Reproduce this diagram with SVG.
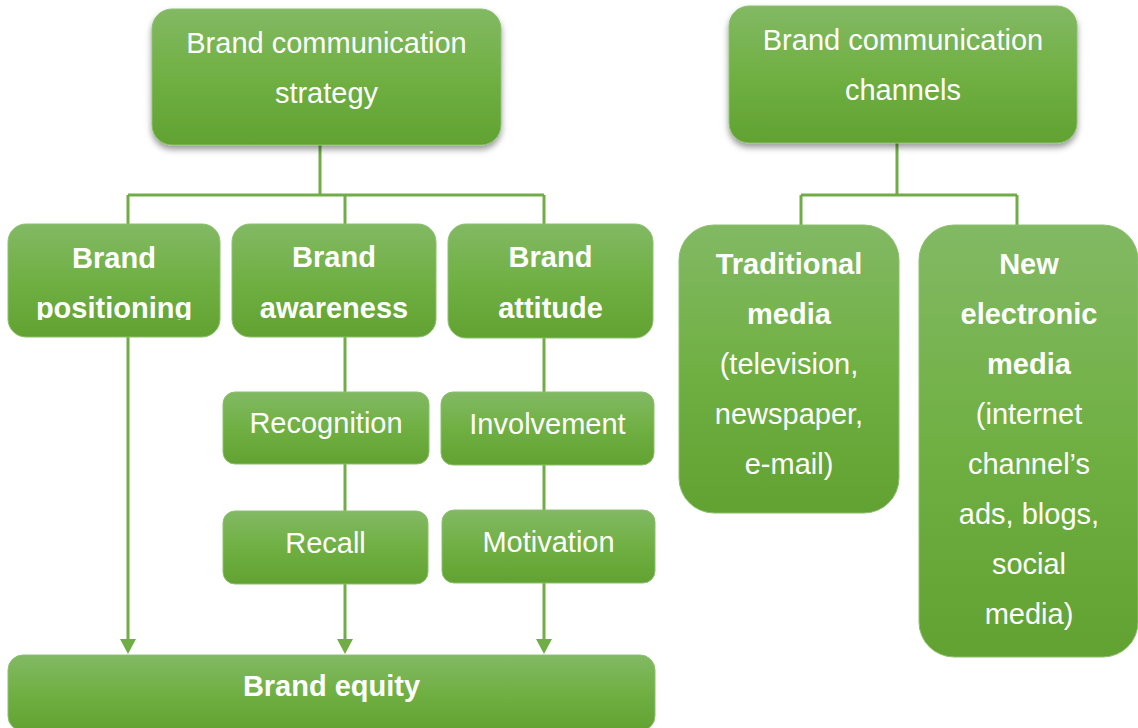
<svg xmlns="http://www.w3.org/2000/svg" width="1138" height="728" viewBox="0 0 1138 728">
<style>
.box{fill:url(#g);stroke:#8cc06e;stroke-width:1}
.t{font-family:"Liberation Sans",Arial,sans-serif;font-size:29px;fill:#ffffff;text-anchor:middle}
.b{font-weight:bold}
.c{fill:none;stroke:#70ad47;stroke-width:3}
</style>
<defs>
<linearGradient id="g" x1="0" y1="0" x2="0" y2="1">
<stop offset="0" stop-color="#82b964"/>
<stop offset="0.5" stop-color="#70b043"/>
<stop offset="1" stop-color="#61a232"/>
</linearGradient>
<filter id="sh" x="-10%" y="-10%" width="120%" height="130%">
<feDropShadow dx="0" dy="4" stdDeviation="3" flood-color="#000" flood-opacity="0.4"/>
</filter>
<marker id="arr" markerUnits="userSpaceOnUse" markerWidth="15" markerHeight="16" viewBox="0 0 15 16" refX="6" refY="8" orient="auto">
<path d="M0,0 L15,8 L0,16 z" fill="#70ad47"/>
</marker>
<clipPath id="clipPos"><rect x="0" y="224" width="230" height="96"/></clipPath>
</defs>

<g id="connectors">
<path class="c" d="M320,145 V195 M128,195 H544 M128,195 V224 M345,195 V224 M544,195 V224"/>
<path class="c" d="M897,143 V195 M801,195 H1017 M801,195 V225 M1017,195 V225"/>
<path class="c" d="M345,337 V392 M345,464 V511 M544,338 V392 M544,465 V510"/>
<path class="c" d="M128,337 V645" marker-end="url(#arr)"/>
<path class="c" d="M345,584 V645" marker-end="url(#arr)"/>
<path class="c" d="M544,583 V645" marker-end="url(#arr)"/>
</g>

<g id="node-strategy">
<rect class="box" x="152" y="9" width="349" height="136" rx="20" filter="url(#sh)"/>
<text class="t" x="326.5" y="53">Brand communication</text>
<text class="t" x="326.5" y="103">strategy</text>
</g>

<g id="node-channels">
<rect class="box" x="729" y="6" width="348" height="137" rx="20" filter="url(#sh)"/>
<text class="t" x="903" y="50">Brand communication</text>
<text class="t" x="903" y="100">channels</text>
</g>

<g id="node-positioning">
<rect class="box" x="8" y="224" width="212" height="113" rx="18"/>
<g clip-path="url(#clipPos)">
<text class="t b" x="114" y="268">Brand</text>
<text class="t b" x="114" y="317.5">positioning</text>
</g>
</g>

<g id="node-awareness">
<rect class="box" x="232" y="224" width="204" height="113" rx="18"/>
<text class="t b" x="334" y="267">Brand</text>
<text class="t b" x="334" y="318">awareness</text>
</g>

<g id="node-attitude">
<rect class="box" x="448" y="224" width="205" height="114" rx="18"/>
<text class="t b" x="550.5" y="267">Brand</text>
<text class="t b" x="550.5" y="318">attitude</text>
</g>

<g id="node-recognition">
<rect class="box" x="223" y="392" width="206" height="72" rx="12"/>
<text class="t" x="326" y="433">Recognition</text>
</g>

<g id="node-involvement">
<rect class="box" x="441" y="392" width="213" height="73" rx="12"/>
<text class="t" x="547.5" y="434">Involvement</text>
</g>

<g id="node-recall">
<rect class="box" x="223" y="511" width="205" height="73" rx="12"/>
<text class="t" x="325.5" y="553">Recall</text>
</g>

<g id="node-motivation">
<rect class="box" x="442" y="510" width="213" height="73" rx="12"/>
<text class="t" x="548.5" y="552">Motivation</text>
</g>

<g id="node-equity">
<rect class="box" x="8" y="655" width="647" height="76" rx="15"/>
<text class="t b" x="331.5" y="696">Brand equity</text>
</g>

<g id="node-traditional">
<rect class="box" x="679" y="225" width="220" height="288" rx="35"/>
<text class="t b" x="789" y="274">Traditional</text>
<text class="t b" x="789" y="324">media</text>
<text class="t" x="789" y="374">(television,</text>
<text class="t" x="789" y="424">newspaper,</text>
<text class="t" x="789" y="474">e-mail)</text>
</g>

<g id="node-new">
<rect class="box" x="919" y="225" width="219" height="432" rx="35"/>
<text class="t b" x="1029" y="274">New</text>
<text class="t b" x="1029" y="324">electronic</text>
<text class="t b" x="1029" y="374">media</text>
<text class="t" x="1029" y="424">(internet</text>
<text class="t" x="1029" y="474">channel’s</text>
<text class="t" x="1029" y="524">ads, blogs,</text>
<text class="t" x="1029" y="574">social</text>
<text class="t" x="1029" y="624">media)</text>
</g>
</svg>
